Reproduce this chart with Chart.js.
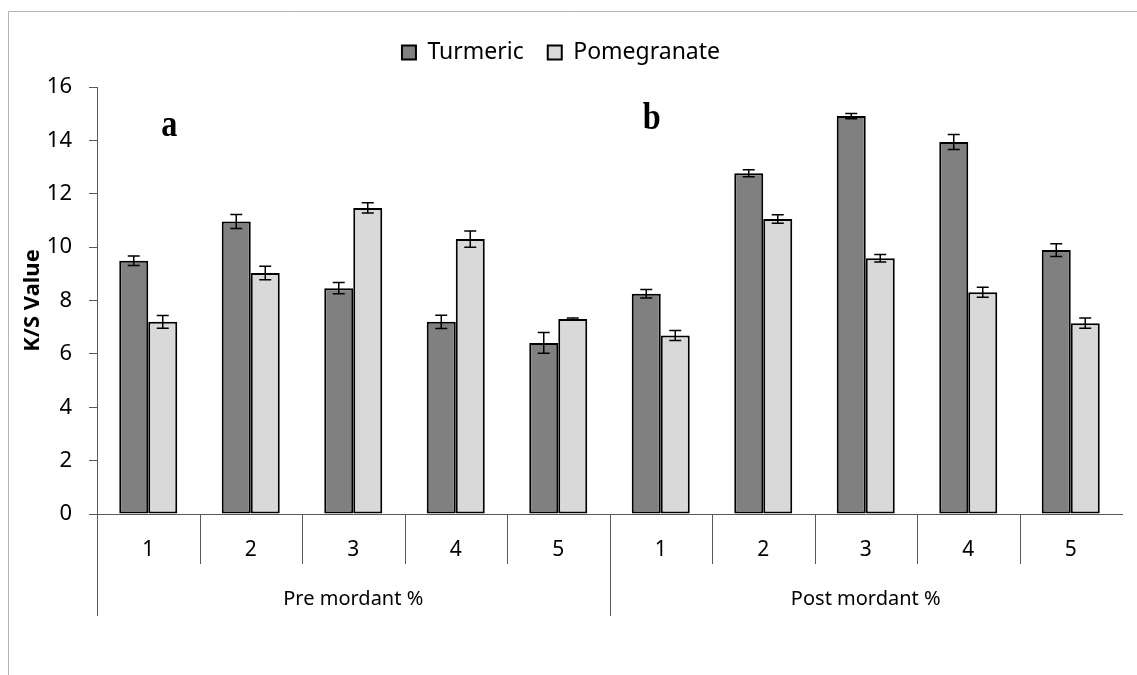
<!DOCTYPE html>
<html>
<head>
<meta charset="utf-8">
<script src="https://cdn.jsdelivr.net/npm/chart.js@4/dist/chart.umd.min.js"></script>
<style>
  html, body { margin: 0; padding: 0; background: #fff; }
  #wrap { width: 1137px; height: 675px; }
</style>
</head>
<body>
<div id="wrap"><canvas id="chartKS" width="1137" height="675"></canvas></div>
<script>
// data
const categories = ["1", "2", "3", "4", "5", "1", "2", "3", "4", "5"];
const groups = ["Pre mordant %", "Post mordant %"];
const groupSize = 5;
const turmeric = [9.49, 10.96, 8.46, 7.20, 6.41, 8.25, 12.77, 14.91, 13.94, 9.89];
const pomegranate = [7.20, 9.03, 11.47, 10.30, 7.31, 6.69, 11.05, 9.58, 8.31, 7.15];
const turmericErr = [0.18, 0.26, 0.21, 0.25, 0.39, 0.16, 0.13, 0.10, 0.28, 0.24];
const pomegranateErr = [0.24, 0.25, 0.19, 0.30, 0.03, 0.19, 0.16, 0.14, 0.19, 0.19];
const yTicks = [0, 2, 4, 6, 8, 10, 12, 14, 16];
const panelLabels = ["a", "b"];

const FONT = "'Noto Sans', sans-serif";
const AXIS_COLOR = "#595959";

// outer frame like the exported office chart
const framePlugin = {
    id: "frame",
    beforeDraw(chart) {
        const ctx = chart.ctx;
        ctx.save();
        ctx.strokeStyle = "#b4b4b4";
        ctx.lineWidth = 1;
        ctx.beginPath();
        ctx.moveTo(8.5, 675);
        ctx.lineTo(8.5, 11.5);
        ctx.lineTo(1137, 11.5);
        ctx.stroke();
        ctx.restore();
    }
};

// error bars on top of every bar
const errorBarPlugin = {
    id: "errorBars",
    afterDatasetsDraw(chart) {
        const ctx = chart.ctx;
        const y = chart.scales.y;
        ctx.save();
        ctx.strokeStyle = "#000";
        ctx.lineWidth = 1.5;
        chart.data.datasets.forEach(function (ds, di) {
            const meta = chart.getDatasetMeta(di);
            meta.data.forEach(function (bar, i) {
                const v = ds.data[i];
                const e = ds.errors[i];
                const yTop = y.getPixelForValue(v + e);
                const yBot = y.getPixelForValue(v - e);
                ctx.beginPath();
                ctx.moveTo(bar.x, yTop);
                ctx.lineTo(bar.x, yBot);
                ctx.moveTo(bar.x - 6, yTop);
                ctx.lineTo(bar.x + 6, yTop);
                ctx.moveTo(bar.x - 6, yBot);
                ctx.lineTo(bar.x + 6, yBot);
                ctx.stroke();
            });
        });
        ctx.restore();
    }
};

// two level category axis: dividers + group names, and the a / b panel letters
const groupAxisPlugin = {
    id: "groupAxis",
    afterDraw(chart) {
        const ctx = chart.ctx;
        const x = chart.scales.x;
        const top = chart.chartArea.bottom;
        const n = categories.length;
        const step = x.getPixelForValue(1) - x.getPixelForValue(0);
        ctx.save();
        ctx.strokeStyle = AXIS_COLOR;
        ctx.lineWidth = 1;
        for (let i = 0; i < n; i++) {
            const bx = Math.round(x.getPixelForValue(i) - step / 2) + 0.5;
            const long = i % groupSize === 0;
            ctx.beginPath();
            ctx.moveTo(bx, top);
            ctx.lineTo(bx, long ? top + 102 : top + 50);
            ctx.stroke();
        }
        ctx.fillStyle = "#000";
        ctx.font = "20px " + FONT;
        ctx.textAlign = "center";
        ctx.textBaseline = "middle";
        groups.forEach(function (g, gi) {
            const a = x.getPixelForValue(gi * groupSize);
            const b = x.getPixelForValue(gi * groupSize + groupSize - 1);
            ctx.fillText(g, (a + b) / 2, top + 85);
        });

        // panel letters
        ctx.font = "bold 38px 'Liberation Serif', serif";
        ctx.textBaseline = "alphabetic";
        panelLabels.forEach(function (lbl, gi) {
            const px = x.getPixelForValue(gi * groupSize) + (gi === 0 ? 21 : -9);
            const py = gi === 0 ? 136 : 129;
            ctx.save();
            ctx.translate(px, py);
            ctx.scale(0.85, 1);
            ctx.fillText(lbl, 0, 0);
            ctx.restore();
        });
        ctx.restore();
    }
};

const ctxKS = document.getElementById("chartKS").getContext("2d");
new Chart(ctxKS, {
    type: "bar",
    data: {
        labels: categories,
        datasets: [{
            label: "Turmeric",
            data: turmeric,
            errors: turmericErr,
            backgroundColor: "#808080",
            borderColor: "#000",
            borderWidth: 2,
            borderSkipped: false,
            categoryPercentage: 0.566,
            barPercentage: 1.0
        }, {
            label: "Pomegranate",
            data: pomegranate,
            errors: pomegranateErr,
            backgroundColor: "#d9d9d9",
            borderColor: "#000",
            borderWidth: 2,
            borderSkipped: false,
            categoryPercentage: 0.566,
            barPercentage: 1.0
        }]
    },
    options: {
        responsive: false,
        animation: false,
        layout: { padding: { top: 17, right: 15, bottom: 0, left: 0 } },
        plugins: {
            tooltip: { enabled: false },
            legend: {
                position: "top",
                weight: 3000,
                labels: {
                    boxWidth: 14,
                    boxHeight: 14,
                    padding: 24,
                    color: "#000",
                    font: { size: 23, family: FONT }
                }
            },
            // empty title used only as a gap between legend and plot
            title: {
                display: true,
                text: "",
                padding: { top: 0, bottom: 1 },
                font: { size: 10 }
            }
        },
        scales: {
            x: {
                grid: { display: false },
                border: { display: true, color: AXIS_COLOR, width: 1 },
                ticks: { color: "#000", padding: 15, font: { size: 21, family: FONT } },
                afterFit: function (scale) { scale.height = 161; }
            },
            y: {
                min: 0,
                max: 16,
                afterBuildTicks: function (scale) {
                    scale.ticks = yTicks.map(function (v) { return { value: v }; });
                },
                grid: { drawOnChartArea: false, drawTicks: true, tickLength: 8, color: AXIS_COLOR },
                border: { display: true, color: AXIS_COLOR, width: 1 },
                ticks: { color: "#000", padding: 17, font: { size: 22, family: FONT } },
                title: {
                    display: true,
                    text: "K/S Value",
                    color: "#000",
                    padding: { top: 20, bottom: 0 },
                    font: { size: 22, weight: "bold", family: FONT }
                },
                afterFit: function (scale) { scale.width = 97; }
            }
        }
    },
    plugins: [framePlugin, errorBarPlugin, groupAxisPlugin]
});
</script>
</body>
</html>
